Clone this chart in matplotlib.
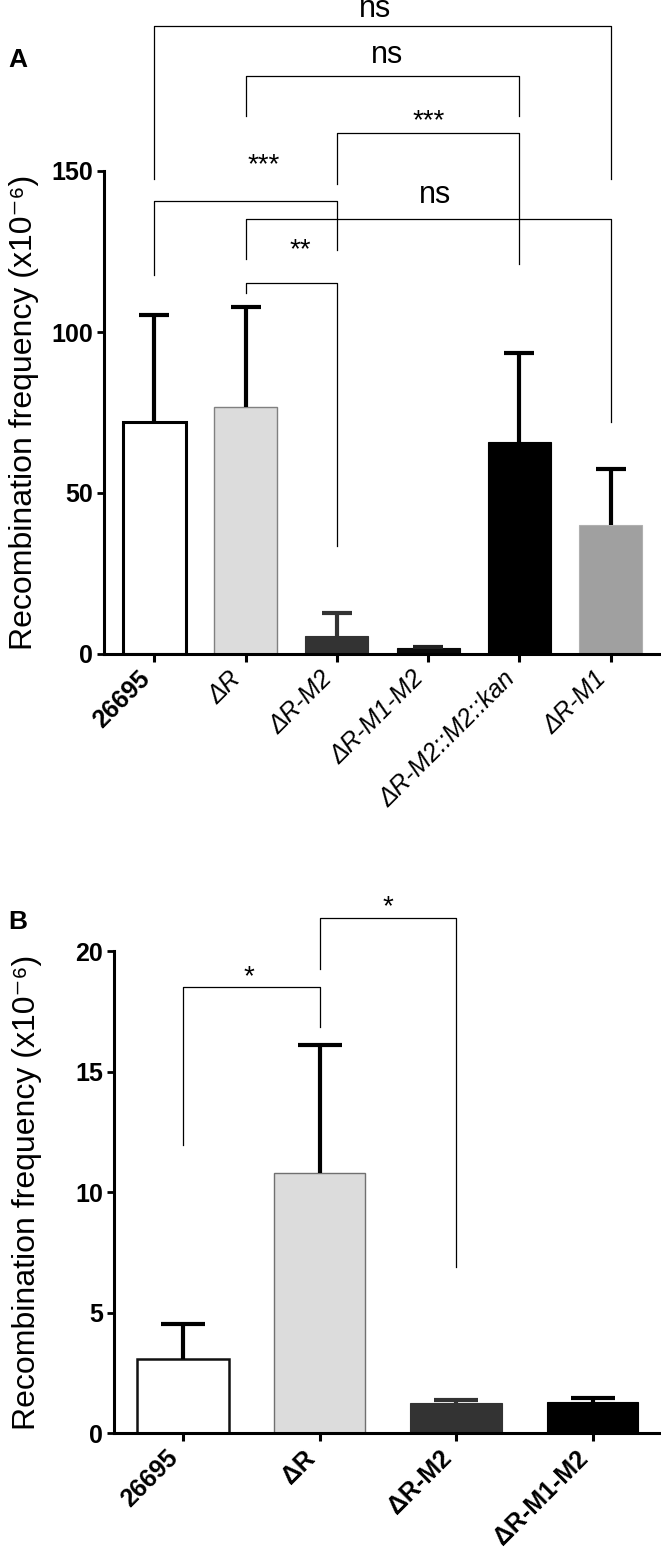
import matplotlib
matplotlib.use("Agg")
import matplotlib.pyplot as plt
from matplotlib import font_manager as fm

# ---------------- data ----------------
a_labels = ["26695", "ΔR", "ΔR-M2", "ΔR-M1-M2", "ΔR-M2::M2::kan", "ΔR-M1"]
a_means = [72.0, 76.6, 5.6, 1.8, 65.9, 40.1]
a_err = [33.3, 31.1, 7.2, 0.5, 27.5, 17.4]
a_colors = ["#ffffff", "#dcdcdc", "#333333", "#0a0a0a", "#000000", "#a0a0a0"]

b_labels = ["26695", "ΔR", "ΔR-M2", "ΔR-M1-M2"]
b_means = [3.1, 10.8, 1.25, 1.3]
b_err = [1.45, 5.3, 0.13, 0.17]
b_colors = ["#ffffff", "#dcdcdc", "#333333", "#000000"]

# significance annotations: (left idx, right idx, bar y, left-leg end, right-leg end, label, label x, label y)
a_sig = [
    (0, 5, 195.0, 147.5, 147.5, "ns", 2.42, 200.3),
    (1, 4, 179.6, 167.2, 167.2, "ns", 2.55, 186.0),
    (2, 4, 161.7, 146.0, 121.0, "***", 3.0, 168.3),
    (1, 5, 135.0, 122.6, 72.0, "ns", 3.08, 142.5),
    (0, 2, 140.8, 117.7, 125.5, "***", 1.2, 154.6),
    (1, 2, 115.2, 112.2, 33.5, "**", 1.6, 128.3),
]
b_sig = [
    (0, 1, 18.53, 11.96, 16.87, "*", 0.48, 19.3),
    (1, 2, 21.4, 19.27, 6.9, "*", 1.5, 22.2),
]

# ---------------- fonts ----------------
avail = {f.name for f in fm.fontManager.ttflist}
base = "Liberation Sans" if "Liberation Sans" in avail else "DejaVu Sans"
narrow = "Liberation Sans Narrow" if "Liberation Sans Narrow" in avail else base
plt.rcParams['font.family'] = [base, 'DejaVu Sans']

fig = plt.figure(figsize=(6.61, 15.6), dpi=100)
W, H = 661, 1560

axA = fig.add_axes([104 / W, (H - 654) / H, 1 - 104 / W, 644 / H])
axB = fig.add_axes([114 / W, (H - 1433.3) / H, 1 - 114 / W, 554.3 / H])


def style_axes(ax, top, ticks):
    for s in ["top", "right"]:
        ax.spines[s].set_visible(False)
    ax.spines["left"].set_linewidth(2.2)
    ax.spines["bottom"].set_linewidth(2.2)
    ax.spines["left"].set_bounds(0, top)
    ax.set_yticks(ticks)
    ax.tick_params(axis="y", direction="out", length=5, width=2.0, labelsize=18, pad=3)
    ax.tick_params(axis="x", direction="out", length=6, width=2.2, pad=3)
    for t in ax.get_yticklabels():
        t.set_fontweight("bold")


def draw_sig(ax, sig, fs_ns, fs_star, px_per_unit):
    for l, r, y, ly, ry, lab, tx, ty in sig:
        ax.plot([l, l, r, r], [ly, y, y, ry], color="black", lw=0.9,
                clip_on=False, zorder=5)
        if lab == "ns":
            off = 0.26 * fs_ns * 100 / 72 / px_per_unit
            ax.text(tx, ty - off, lab, ha="center", va="baseline", fontsize=fs_ns,
                    family=narrow, clip_on=False)
        else:
            off = 0.58 * fs_star * 100 / 72 / px_per_unit
            ax.text(tx, ty - off, lab, ha="center", va="baseline", fontsize=fs_star,
                    family=base, clip_on=False)


def upper_errorbars(ax, means, errs, colors, capsize):
    for i, (m, e, c) in enumerate(zip(means, errs, colors)):
        cont = ax.errorbar(i, m, yerr=[[0], [e]], fmt="none", ecolor=c,
                           elinewidth=3.0, capsize=capsize, capthick=3.0,
                           zorder=3)
        for cl in cont.lines[1]:
            if abs(cl.get_ydata()[0] - m) < 1e-9:
                cl.set_visible(False)


ylab = "Recombination frequency (x10⁻⁶)"

# ---------------- Panel A ----------------
xa = list(range(len(a_labels)))
a_edges = ["#000000", "#808080", "#333333", "#0a0a0a", "#000000", "#b0b0b0"]
a_lw = [2.2, 1.0, 0.8, 0.8, 0.8, 0.8]
a_ecol = ["#000000", "#000000", "#333333", "#222222", "#000000", "#000000"]
axA.bar(xa, a_means, width=0.69, color=a_colors, edgecolor=a_edges,
        linewidth=a_lw, zorder=2)
upper_errorbars(axA, a_means, a_err, a_ecol, 11)
axA.set_xlim(-0.55, 5.55)
axA.set_ylim(0, 200)
style_axes(axA, 150, [0, 50, 100, 150])
axA.set_xticks(xa)
axA.set_xticklabels(a_labels, rotation=45, ha="right", fontsize=18)
for i, t in enumerate(axA.get_xticklabels()):
    if i == 0:
        t.set_fontweight("bold")
    else:
        t.set_fontstyle("italic")
axA.set_ylabel(ylab, fontsize=23, va="center")
axA.yaxis.set_label_coords((24 - 104) / (W - 104), 75 / 200)
draw_sig(axA, a_sig, 22, 20, 3.22)
fig.text(18 / W, 1 - 60 / H, "A", fontsize=19, fontweight="bold",
         ha="center", va="center")

# ---------------- Panel B ----------------
xb = list(range(len(b_labels)))
b_edges = ["#111111", "#707070", "#333333", "#000000"]
b_lw = [1.8, 1.0, 0.8, 0.8]
b_ecol = ["#000000", "#000000", "#333333", "#000000"]
axB.bar(xb, b_means, width=0.67, color=b_colors, edgecolor=b_edges,
        linewidth=b_lw, zorder=2)
upper_errorbars(axB, b_means, b_err, b_ecol, 16)
axB.set_xlim(-0.505, 3.5)
axB.set_ylim(0, 23)
style_axes(axB, 20, [0, 5, 10, 15, 20])
axB.set_xticks(xb)
axB.set_xticklabels(b_labels, rotation=45, ha="right", fontsize=18,
                    fontweight="bold")
axB.set_ylabel(ylab, fontsize=23, va="center")
axB.yaxis.set_label_coords((27 - 114) / (W - 114), 10 / 23)
draw_sig(axB, b_sig, 22, 20, 24.1)
fig.text(18 / W, 1 - 922 / H, "B", fontsize=19, fontweight="bold",
         ha="center", va="center")

fig.savefig("out.png", dpi=100)
